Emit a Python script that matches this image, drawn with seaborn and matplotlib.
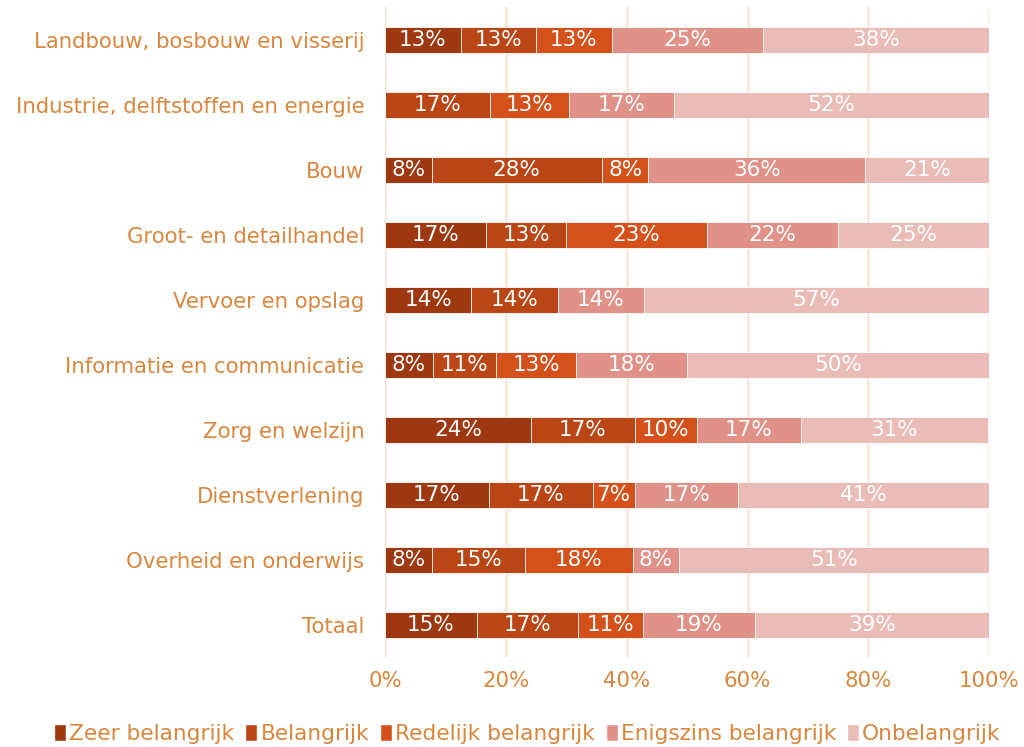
import numpy as np
import pandas as pd
import matplotlib
matplotlib.use("Agg")
import matplotlib.pyplot as plt
import seaborn as sns
from matplotlib.patches import Patch

sectors = ["Landbouw, bosbouw en visserij", "Industrie, delftstoffen en energie", "Bouw",
           "Groot- en detailhandel", "Vervoer en opslag", "Informatie en communicatie",
           "Zorg en welzijn", "Dienstverlening", "Overheid en onderwijs", "Totaal"]
levels = ["Zeer belangrijk", "Belangrijk", "Redelijk belangrijk", "Enigszins belangrijk", "Onbelangrijk"]

# shares in % per sector
zeer = [12.5, 0.0, 7.7, 16.7, 14.3, 7.9, 24.1, 17.2, 7.7, 15.2]
belangrijk = [12.5, 17.4, 28.2, 13.3, 14.3, 10.5, 17.2, 17.2, 15.4, 16.8]
redelijk = [12.5, 13.0, 7.7, 23.3, 0.0, 13.2, 10.3, 6.9, 17.9, 10.7]
enigszins = [25.0, 17.4, 35.9, 21.7, 14.3, 18.4, 17.2, 17.2, 7.7, 18.5]
onbelangrijk = [37.5, 52.2, 20.5, 25.0, 57.1, 50.0, 31.0, 41.4, 51.3, 38.8]

colors = ["#9E3810", "#BA4515", "#D5511B", "#E09288", "#E9BCB7"]
txt_col = "#D9863E"

df = pd.DataFrame({"sector": sectors, levels[0]: zeer, levels[1]: belangrijk,
                   levels[2]: redelijk, levels[3]: enigszins, levels[4]: onbelangrijk})
cum = df[levels].cumsum(axis=1)

sns.set_style("white")
plt.rcParams["font.family"] = ["DejaVu Sans"]

fig = plt.figure(figsize=(10.24, 7.47), dpi=100)
ax = fig.add_axes([0.376, 0.12, 0.59, 0.87])

# draw cumulative layers from the back (largest) to the front
for lev, col in reversed(list(zip(levels, colors))):
    sns.barplot(x=cum[lev], y=df["sector"], orient="h", color=col, width=0.4,
                edgecolor="white", linewidth=0.6, ax=ax, saturation=1)

# percentage labels
for i, row in df.iterrows():
    left = 0
    for lev in levels:
        v = row[lev]
        if v > 0:
            ax.text(left + v / 2, i, f"{int(np.floor(v + 0.5))}%", ha="center", va="center",
                    color="white", fontsize=15.5)
        left += v

ax.set_xlim(0, 100)
ax.set_ylim(9.5, -0.5)
ax.set_xticks(np.arange(0, 101, 20))
ax.set_xticklabels([f"{t}%" for t in range(0, 101, 20)])
ax.xaxis.grid(True, color="#FAE5D5", linewidth=1.8)
ax.set_axisbelow(True)
ax.set_xlabel("")
ax.set_ylabel("")
for s in ax.spines.values():
    s.set_visible(False)
ax.tick_params(axis="both", length=0, labelsize=15.3, colors=txt_col)
ax.tick_params(axis="y", pad=15)
ax.tick_params(axis="x", pad=10)

handles = [Patch(facecolor=c, label=l) for c, l in zip(colors, levels)]
fig.legend(handles=handles, loc="lower center", bbox_to_anchor=(0.515, -0.022), ncol=5,
           frameon=False, fontsize=15.6, labelcolor=txt_col, handlelength=0.55,
           handleheight=0.85, handletextpad=0.15, columnspacing=0.5)

fig.savefig("out.png", dpi=100)
